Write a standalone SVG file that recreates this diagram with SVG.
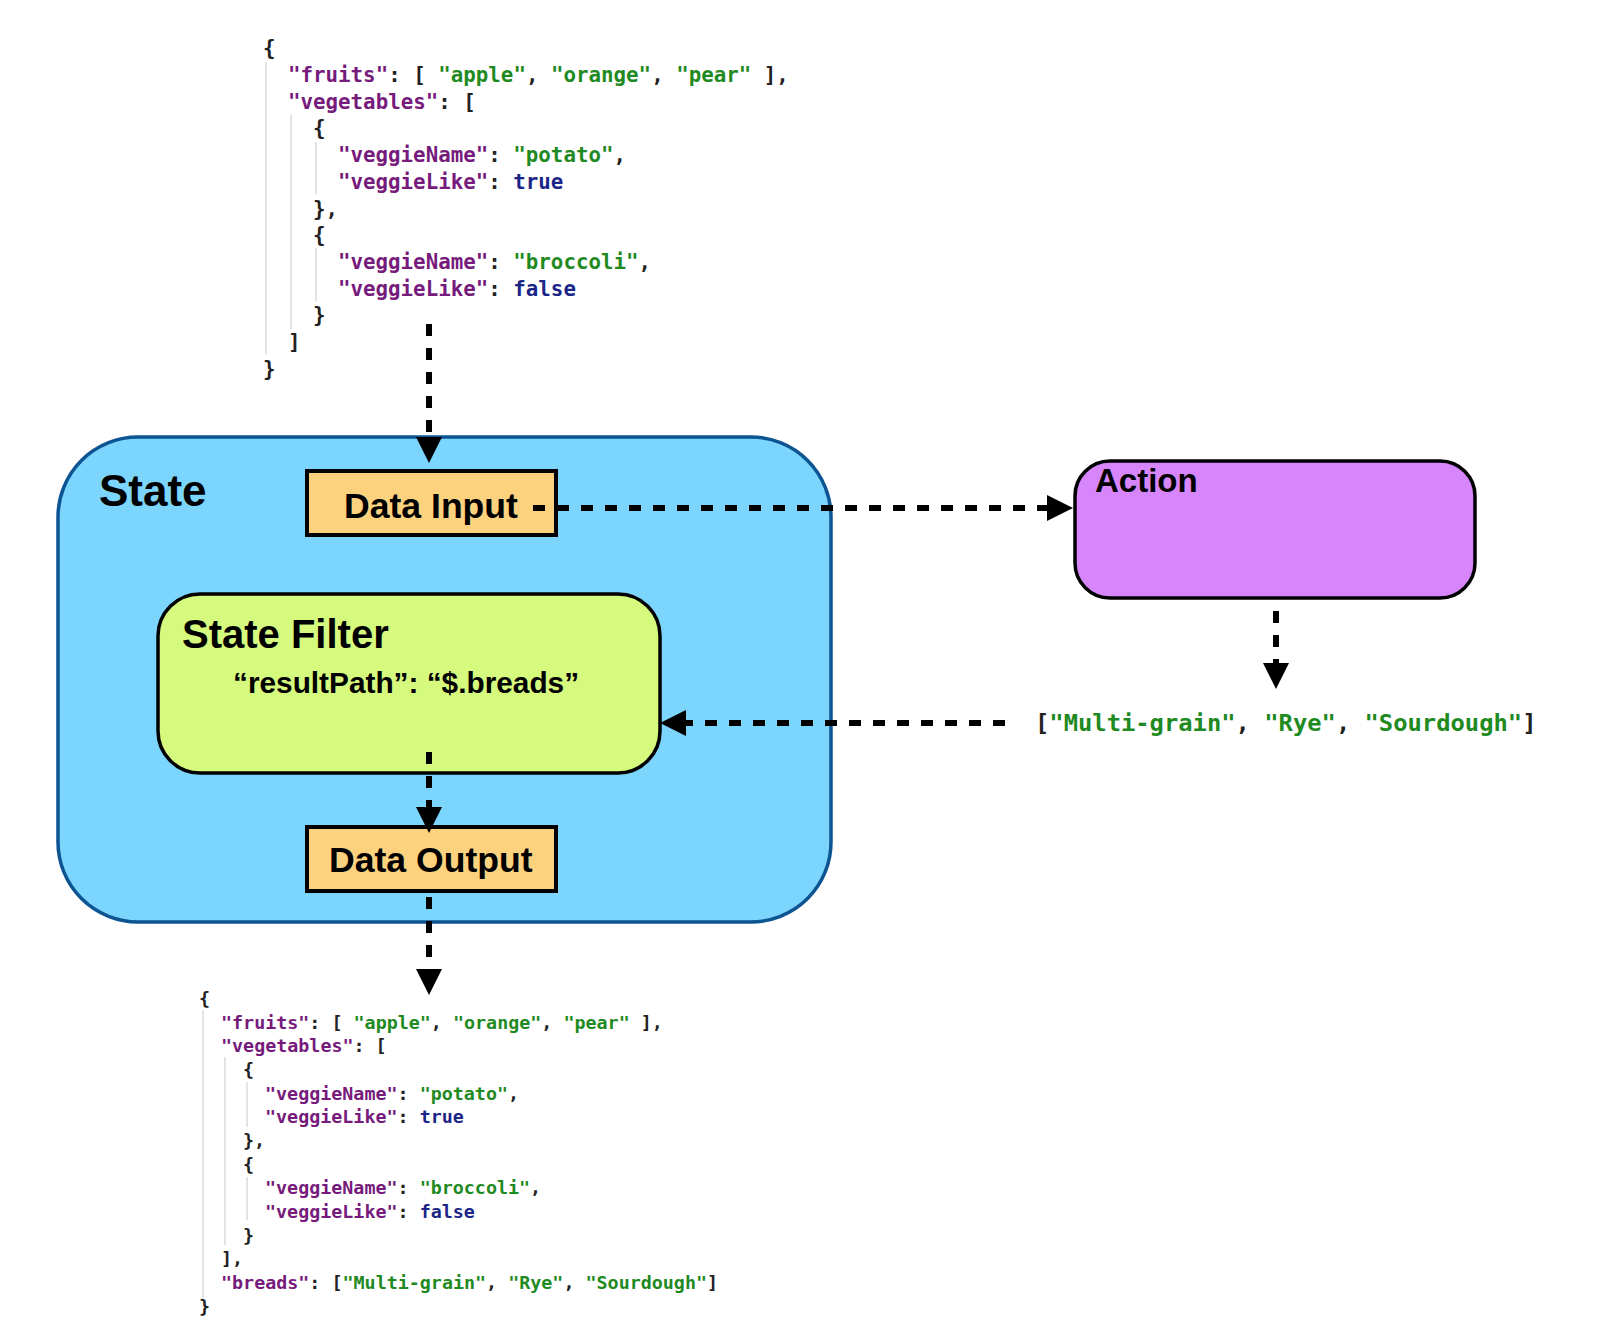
<svg xmlns="http://www.w3.org/2000/svg" width="1614" height="1340" viewBox="0 0 1614 1340">
<style>
.lbl{font-family:"Liberation Sans",Arial,sans-serif;font-weight:bold;fill:#000}
.code{font-family:"DejaVu Sans Mono",monospace;font-weight:bold;fill:#222;white-space:pre}
.top{font-size:20.8px}
.bot{font-size:18.35px}
.k{fill:#761a7c}
.s{fill:#1f8a1f}
.b{fill:#1b2587}
.guide{stroke:#dcdcdc;stroke-width:1.6;fill:none}
.conn{stroke:#000;stroke-width:6;stroke-dasharray:12 12;fill:none}
.box{stroke:#000;stroke-width:4;fill:#fcd27e}
</style>
<defs>
<marker id="arr" viewBox="0 0 26 26" refX="0" refY="13" markerWidth="26" markerHeight="26" markerUnits="userSpaceOnUse" orient="auto">
<path d="M0,0 L26,13 L0,26 z" fill="#000"/>
</marker>
</defs>
<rect width="1614" height="1340" fill="#fff"/>

<g id="json-input">
<path class="guide" d="M266,62 V354 M291,115 V329 M316,142 V194 M316,248 V301"/>
<text class="code top" x="263" y="55">{</text>
<text class="code top" x="288" y="82"><tspan class="k">"fruits"</tspan>: [ <tspan class="s">"apple"</tspan>, <tspan class="s">"orange"</tspan>, <tspan class="s">"pear"</tspan> ],</text>
<text class="code top" x="288" y="108.7"><tspan class="k">"vegetables"</tspan>: [</text>
<text class="code top" x="313" y="135.4">{</text>
<text class="code top" x="338" y="162.1"><tspan class="k">"veggieName"</tspan>: <tspan class="s">"potato"</tspan>,</text>
<text class="code top" x="338" y="188.8"><tspan class="k">"veggieLike"</tspan>: <tspan class="b">true</tspan></text>
<text class="code top" x="313" y="215.5">},</text>
<text class="code top" x="313" y="242.2">{</text>
<text class="code top" x="338" y="268.9"><tspan class="k">"veggieName"</tspan>: <tspan class="s">"broccoli"</tspan>,</text>
<text class="code top" x="338" y="295.6"><tspan class="k">"veggieLike"</tspan>: <tspan class="b">false</tspan></text>
<text class="code top" x="313" y="322.3">}</text>
<text class="code top" x="288" y="349">]</text>
<text class="code top" x="263" y="375.7">}</text>
</g>

<g id="state">
<rect x="58" y="437" width="773" height="485" rx="80" ry="80" fill="#7bd5fc" stroke="#0d5492" stroke-width="3.5"/>
<text class="lbl" x="99" y="506" font-size="44">State</text>
</g>

<g id="data-input">
<rect class="box" x="307" y="471" width="249" height="64"/>
<text class="lbl" x="344" y="518" font-size="35.6">Data Input</text>
</g>

<g id="state-filter">
<rect x="158" y="594" width="502" height="179" rx="42" ry="42" fill="#d5fa7d" stroke="#000" stroke-width="3.5"/>
<text class="lbl" x="182" y="648" font-size="40">State Filter</text>
<text class="lbl" x="233" y="693" font-size="29.8">“resultPath”: “$.breads”</text>
</g>

<g id="data-output">
<rect class="box" x="307" y="827" width="249" height="64"/>
<text class="lbl" x="329" y="872" font-size="35.6">Data Output</text>
</g>

<g id="action">
<rect x="1075" y="461" width="400" height="137" rx="35" ry="35" fill="#d686fa" stroke="#000" stroke-width="3.5"/>
<text class="lbl" x="1095" y="492" font-size="33">Action</text>
</g>

<g id="action-result">
<text class="code" x="1035" y="731" font-size="23.8">[<tspan class="s">"Multi-grain"</tspan>, <tspan class="s">"Rye"</tspan>, <tspan class="s">"Sourdough"</tspan>]</text>
</g>

<g id="json-output">
<path class="guide" d="M203,1010 V1300 M225,1057 V1245 M247,1082 V1127 M247,1177 V1220"/>
<text class="code bot" x="199" y="1005">{</text>
<text class="code bot" x="221" y="1028.7"><tspan class="k">"fruits"</tspan>: [ <tspan class="s">"apple"</tspan>, <tspan class="s">"orange"</tspan>, <tspan class="s">"pear"</tspan> ],</text>
<text class="code bot" x="221" y="1052.3"><tspan class="k">"vegetables"</tspan>: [</text>
<text class="code bot" x="243" y="1076">{</text>
<text class="code bot" x="265" y="1099.7"><tspan class="k">"veggieName"</tspan>: <tspan class="s">"potato"</tspan>,</text>
<text class="code bot" x="265" y="1123.4"><tspan class="k">"veggieLike"</tspan>: <tspan class="b">true</tspan></text>
<text class="code bot" x="243" y="1147">},</text>
<text class="code bot" x="243" y="1170.7">{</text>
<text class="code bot" x="265" y="1194.4"><tspan class="k">"veggieName"</tspan>: <tspan class="s">"broccoli"</tspan>,</text>
<text class="code bot" x="265" y="1218"><tspan class="k">"veggieLike"</tspan>: <tspan class="b">false</tspan></text>
<text class="code bot" x="243" y="1241.7">}</text>
<text class="code bot" x="221" y="1265.4">],</text>
<text class="code bot" x="221" y="1289"><tspan class="k">"breads"</tspan>: [<tspan class="s">"Multi-grain"</tspan>, <tspan class="s">"Rye"</tspan>, <tspan class="s">"Sourdough"</tspan>]</text>
<text class="code bot" x="199" y="1312.7">}</text>
</g>

<g id="connectors">
<path class="conn" d="M429,324 V437" marker-end="url(#arr)"/>
<path class="conn" d="M533,508 H1047" marker-end="url(#arr)"/>
<path class="conn" d="M1276,611 V663" marker-end="url(#arr)"/>
<path class="conn" d="M1005,723 H686" marker-end="url(#arr)"/>
<path class="conn" d="M429,752 V807" marker-end="url(#arr)"/>
<path class="conn" d="M429,897 V969" marker-end="url(#arr)"/>
</g>
</svg>
